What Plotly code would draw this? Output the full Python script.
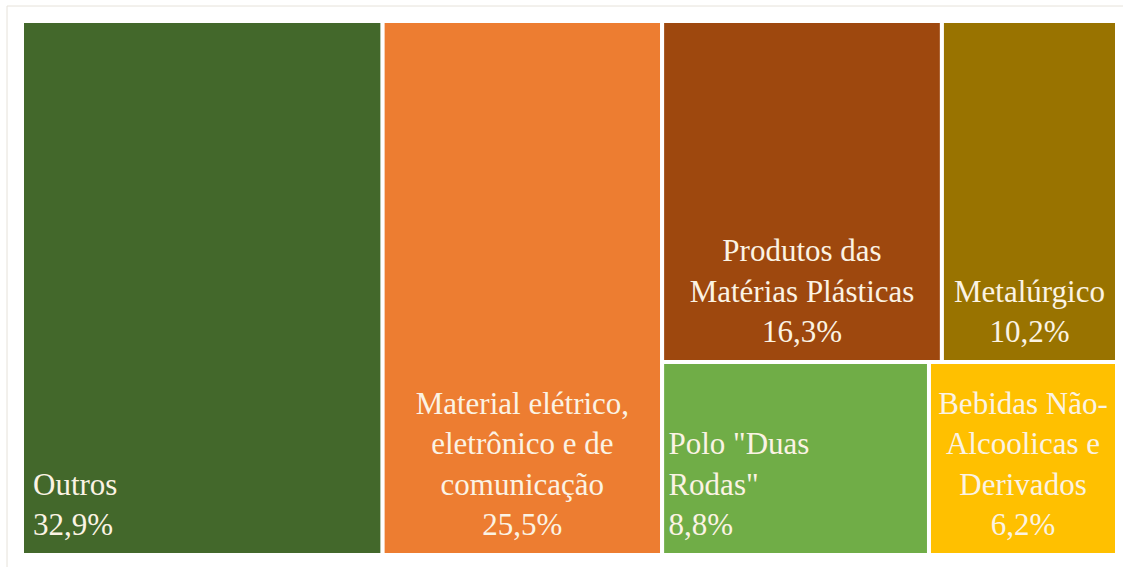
import plotly.graph_objects as go

# Sector shares (%) of the industrial breakdown
categories = [
    "Outros",
    "Material elétrico, eletrônico e de comunicação",
    "Produtos das Matérias Plásticas",
    "Metalúrgico",
    'Polo "Duas Rodas"',
    "Bebidas Não-Alcoolicas e Derivados",
]
tile_text = [
    "Outros",
    "Material elétrico,<br>eletrônico e de<br>comunicação",
    "Produtos das<br>Matérias Plásticas",
    "Metalúrgico",
    'Polo "Duas<br>Rodas"',
    "Bebidas Não-<br>Alcoolicas e<br>Derivados",
]
shares = [32.9, 25.5, 16.3, 10.2, 8.8, 6.2]
colors = ["#43682B", "#ED7D31", "#9E480E", "#997300", "#70AD47", "#FFC000"]
# tiles whose label block sits at the left edge instead of centred
left_aligned = ["Outros", 'Polo "Duas Rodas"']

pct_labels = [f"{v:.1f}%".replace(".", ",") for v in shares]
labels_full = [f"{t}<br>{p}" for t, p in zip(tile_text, pct_labels)]

W, H = 1123, 567
M = dict(l=22, r=6, t=11, b=12)
plot_w = W - M["l"] - M["r"]
plot_h = H - M["t"] - M["b"]
text_lift = 10   # px the labels sit above the tile bottom
text_indent = 8  # px indent of the left-aligned labels

font = dict(family="Liberation Serif, Times New Roman, serif", size=31, color="#FBF3E4")
common = dict(
    ids=categories,
    labels=categories,
    parents=[""] * len(categories),
    values=shares,
    tiling=dict(packing="squarify", squarifyratio=1, pad=0),
    pathbar=dict(visible=False),
    sort=False,
)
no_pad = dict(t=0, l=0, r=0, b=0)

fill_domain = dict(x=[0, 1], y=[0, 1 - text_lift / plot_h])

fig = go.Figure()

# coloured tiles
fig.add_trace(go.Treemap(
    **common,
    domain=fill_domain,
    textinfo="none",
    marker=dict(colors=colors, line=dict(color="#FFFFFF", width=4), pad=no_pad),
    hoverinfo="label+value",
))

# centred labels
fig.add_trace(go.Treemap(
    **common,
    domain=dict(x=[0, 1], y=[text_lift / plot_h, 1]),
    text=[("" if c in left_aligned else s) for c, s in zip(categories, labels_full)],
    texttemplate="%{text}",
    textposition="bottom center",
    textfont=font,
    marker=dict(colors=["rgba(0,0,0,0)"] * len(categories), line=dict(width=0), pad=no_pad),
    hoverinfo="skip",
))

# left-aligned labels
fig.add_trace(go.Treemap(
    **common,
    domain=dict(x=[text_indent / plot_w, 1], y=[text_lift / plot_h, 1]),
    text=[(s if c in left_aligned else "") for c, s in zip(categories, labels_full)],
    texttemplate="%{text}",
    textposition="bottom left",
    textfont=font,
    marker=dict(colors=["rgba(0,0,0,0)"] * len(categories), line=dict(width=0), pad=no_pad),
    hoverinfo="skip",
))

fig.update_layout(
    width=W,
    height=H,
    margin=M,
    paper_bgcolor="#FFFFFF",
    plot_bgcolor="#FFFFFF",
    showlegend=False,
    shapes=[
        dict(
            type="rect",
            xref="paper",
            yref="paper",
            x0=-15 / plot_w,
            x1=1.02,
            y0=-0.05,
            y1=1 + 5 / plot_h,
            line=dict(color="#E6E2DA", width=1),
            fillcolor="rgba(0,0,0,0)",
            layer="below",
        )
    ],
)

fig.write_html("out.html")
